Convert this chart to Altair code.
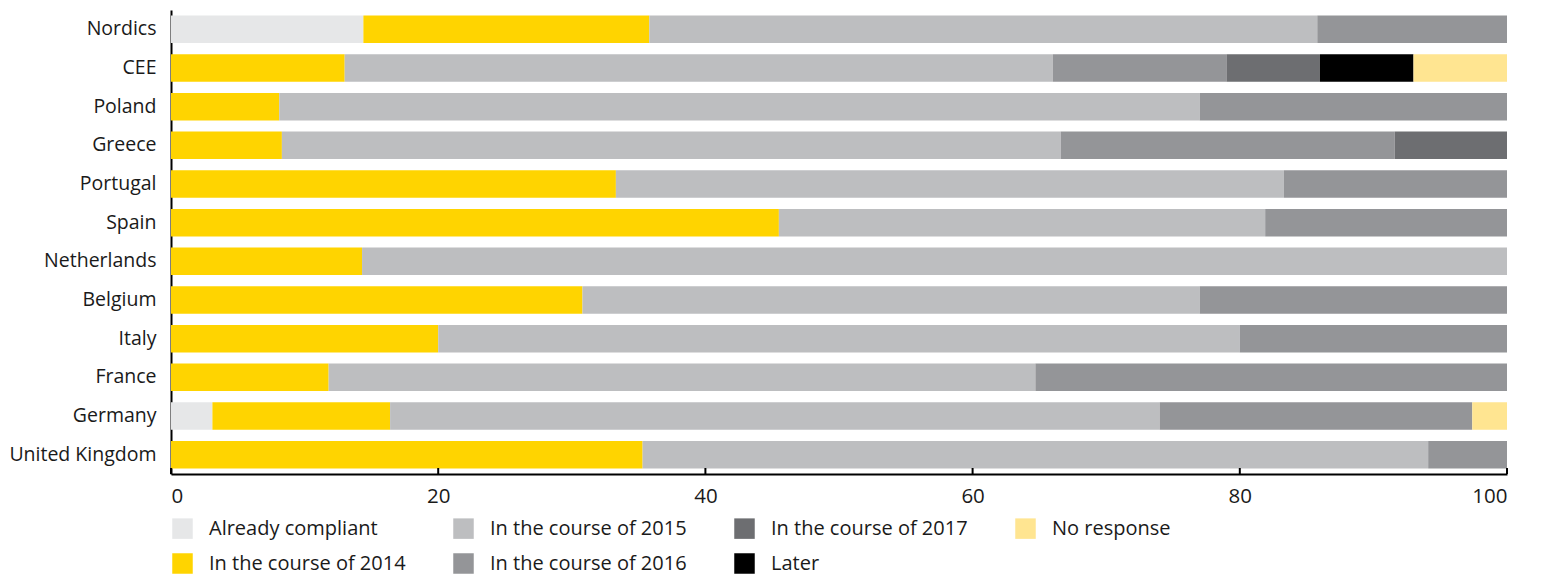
import altair as alt
import pandas as pd

categories = ["Nordics", "CEE", "Poland", "Greece", "Portugal", "Spain",
              "Netherlands", "Belgium", "Italy", "France", "Germany", "United Kingdom"]

already_compliant = [14.4, 0, 0, 0, 0, 0, 0, 0, 0, 0, 3.1, 0]
course_2014 = [21.4, 13.0, 8.1, 8.3, 33.3, 45.5, 14.3, 30.8, 20.0, 11.8, 13.3, 35.3]
course_2015 = [50.0, 53.0, 68.9, 58.3, 50.0, 36.4, 85.7, 46.2, 60.0, 52.9, 57.6, 58.8]
course_2016 = [14.2, 13.0, 23.0, 25.0, 16.7, 18.1, 0, 23.0, 20.0, 35.3, 23.4, 5.9]
course_2017 = [0, 7.0, 0, 8.4, 0, 0, 0, 0, 0, 0, 0, 0]
later = [0, 7.0, 0, 0, 0, 0, 0, 0, 0, 0, 0, 0]
no_response = [0, 7.0, 0, 0, 0, 0, 0, 0, 0, 0, 2.6, 0]

series_names = ["Already compliant", "In the course of 2014", "In the course of 2015",
                "In the course of 2016", "In the course of 2017", "Later", "No response"]
series_values = [already_compliant, course_2014, course_2015, course_2016,
                 course_2017, later, no_response]
series_colors = ["#e6e7e8", "#ffd400", "#bdbec0", "#949598", "#6d6e71", "#000000", "#ffe591"]

# legend is laid out column-wise in the reference; order domain row-wise for 4 columns
legend_order = ["Already compliant", "In the course of 2015", "In the course of 2017", "No response",
                "In the course of 2014", "In the course of 2016", "Later"]
legend_colors = [series_colors[series_names.index(n)] for n in legend_order]

x_ticks = [0, 20, 40, 60, 80, 100]

rows = []
for si, (name, vals) in enumerate(zip(series_names, series_values)):
    for cat, v in zip(categories, vals):
        if v > 0:
            rows.append({"country": cat, "status": name, "value": v, "order": si})
df = pd.DataFrame(rows)
ticks_df = pd.DataFrame({"t": x_ticks})

W, H = 1336, 464
FONT = "Open Sans"

bars = alt.Chart(df).mark_bar().encode(
    y=alt.Y("country:N", sort=categories,
            scale=alt.Scale(paddingInner=0.29, paddingOuter=0.145),
            axis=alt.Axis(title=None, domainColor="#000", domainWidth=2, ticks=False,
                          labelPadding=15, labelFontSize=19.5, labelFont=FONT,
                          labelColor="#1a1a1a")),
    x=alt.X("value:Q", stack="zero",
            scale=alt.Scale(domain=[0, 100], nice=False),
            axis=alt.Axis(title=None, values=x_ticks, grid=False, ticks=False,
                          domainColor="#000", domainWidth=2, labelPadding=12,
                          labelFontSize=20.5, labelFont=FONT, labelColor="#1a1a1a")),
    color=alt.Color("status:N",
                    scale=alt.Scale(domain=legend_order, range=legend_colors),
                    legend=alt.Legend(title=None, orient="none", legendX=1, legendY=508,
                                      direction="horizontal", columns=4,
                                      symbolType="square", symbolSize=420,
                                      symbolStrokeWidth=0, labelOffset=16,
                                      labelFontSize=20, labelFont=FONT,
                                      labelColor="#1a1a1a", labelLimit=400,
                                      columnPadding=47, rowPadding=14, padding=0)),
    order=alt.Order("order:Q", sort="ascending"),
)

ticks = alt.Chart(ticks_df).mark_rule(color="#000", strokeWidth=2).encode(
    x=alt.X("t:Q"),
    y=alt.value(H - 6),
    y2=alt.value(H),
)

chart = alt.layer(bars, ticks).properties(
    width=W, height=H,
    padding={"left": 0, "top": 2, "right": 5, "bottom": 6},
).configure_view(stroke=None)

chart.save("out.html", embed_options={"renderer": "svg", "actions": False})
